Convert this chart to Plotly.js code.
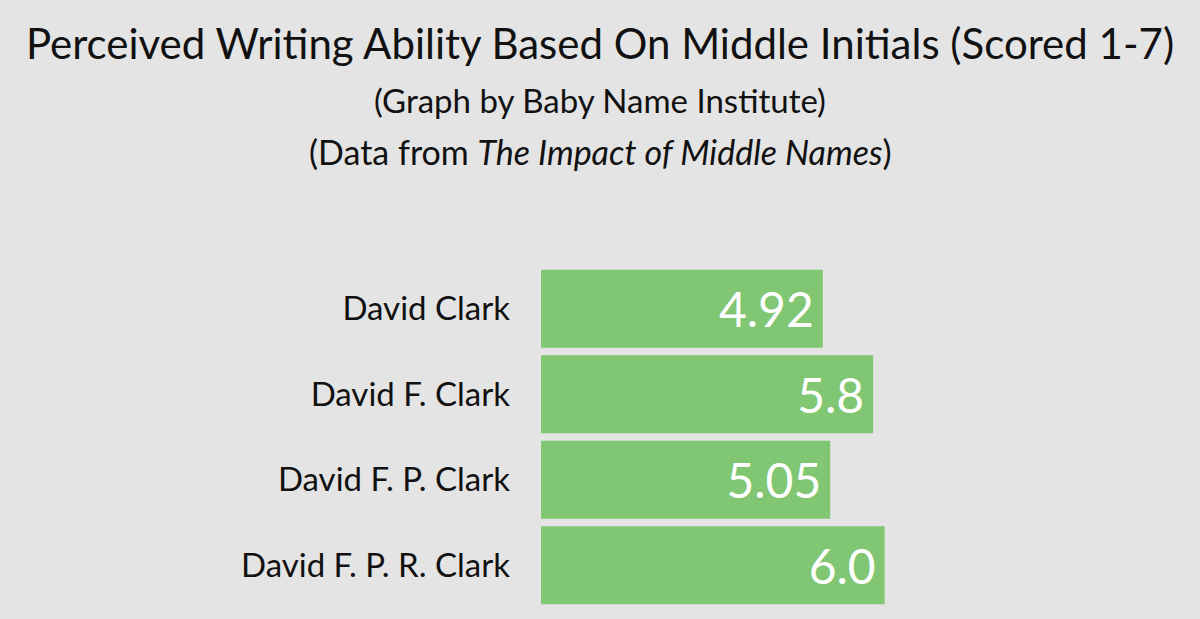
<!DOCTYPE html>
<html>
<head>
<meta charset="utf-8">
<script src="https://cdn.plot.ly/plotly-3.0.1.min.js"></script>
<style>
	html, body { margin: 0; padding: 0; background: #e4e4e4; }
	#chart { width: 1200px; height: 619px; }
</style>
</head>
<body>
<div id="chart"></div>
<script>
// names on the y axis, top to bottom
const names = ["David Clark", "David F. Clark", "David F. P. Clark", "David F. P. R. Clark"]
// perceived writing ability score (1-7)
const scores = [4.92, 5.8, 5.05, 6.0]
const scoreLabels = ["4.92", "5.8", "5.05", "6.0"]

const FONT = "Lato, 'Open Sans', sans-serif"

const trace = {
	type: "bar",
	orientation: "h",
	x: scores,
	y: names,
	text: scoreLabels,
	// a trailing thin space gives the value a bit more room from the bar end
	texttemplate: "%{text}\u2009",
	textposition: "inside",
	insidetextanchor: "end",
	textfont: { family: FONT, size: 48, color: "#ffffff" },
	marker: { color: "#80c673", line: { width: 0 } },
	hoverinfo: "none",
	cliponaxis: false
}

const layout = {
	width: 1200,
	height: 619,
	paper_bgcolor: "#e4e4e4",
	plot_bgcolor: "#e4e4e4",
	font: { family: FONT, color: "#111111" },
	margin: { l: 541, r: 29, t: 266, b: 11 },
	bargap: 0.09,
	showlegend: false,
	title: {
		text: "Perceived Writing Ability Based On Middle Initials (Scored 1-7)",
		font: { family: FONT, size: 42, color: "#111111" },
		x: 0.5,
		xanchor: "center",
		y: 1 - 44 / 619,
		yanchor: "middle"
	},
	xaxis: {
		range: [0, 11],
		showgrid: false,
		zeroline: false,
		showticklabels: false,
		showline: false,
		ticks: ""
	},
	yaxis: {
		autorange: "reversed",
		showgrid: false,
		zeroline: false,
		showline: false,
		ticks: "",
		ticklabelstandoff: 30,
		tickfont: { family: FONT, size: 33, color: "#111111" }
	},
	annotations: [
		{
			text: "(Graph by Baby Name Institute)",
			xref: "paper", yref: "paper",
			x: (600 - 541) / 630, y: 1 + (266 - 100) / 342,
			xanchor: "center", yanchor: "middle",
			showarrow: false,
			font: { family: FONT, size: 33, color: "#111111" }
		},
		{
			text: "(Data from <i>The Impact of Middle Names</i>)",
			xref: "paper", yref: "paper",
			x: (600 - 541) / 630, y: 1 + (266 - 151) / 342,
			xanchor: "center", yanchor: "middle",
			showarrow: false,
			font: { family: FONT, size: 34, color: "#111111" }
		}
	]
}

Plotly.newPlot("chart", [trace], layout, { displayModeBar: false, staticPlot: true })
</script>
</body>
</html>
